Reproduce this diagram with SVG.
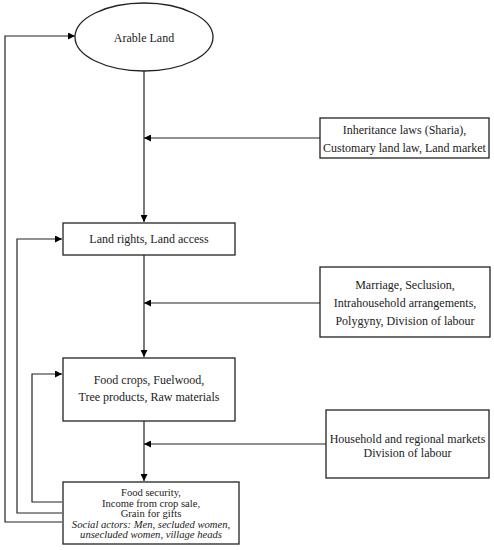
<svg xmlns="http://www.w3.org/2000/svg" width="494" height="550" viewBox="0 0 494 550">
<defs>
<marker id="ah" viewBox="0 0 10 10" refX="10" refY="5" markerWidth="7" markerHeight="7" markerUnits="userSpaceOnUse" orient="auto">
<path d="M0,0 L10,5 L0,10 z" fill="#000"/>
</marker>
<style>
.n{fill:#fff;stroke:#222;stroke-width:1.3}
.t{font-family:"Liberation Serif","DejaVu Serif",serif;font-size:12px;fill:#222;text-anchor:middle}
.s{font-size:10.6px}
.ti{font-style:italic}
.c{fill:none;stroke:#222;stroke-width:1.2;marker-end:url(#ah)}
</style>
</defs>
<rect width="494" height="550" fill="#fff"/>
<g id="connectors">
<path class="c" d="M144,71 V222"/>
<path class="c" d="M320,138 H144"/>
<path class="c" d="M144,255 V357"/>
<path class="c" d="M320,303 H144"/>
<path class="c" d="M144,421 V481"/>
<path class="c" d="M326,444 H144"/>
<path class="c" d="M62,522 H5 V36 H75"/>
<path class="c" d="M62,513 H17 V239 H62"/>
<path class="c" d="M62,502 H32 V374 H62"/>
</g>
<g id="arable">
<ellipse class="n" cx="144" cy="37" rx="69" ry="34"/>
<text class="t" x="144" y="42">Arable Land</text>
</g>
<g id="inheritance">
<rect class="n" x="320" y="118" width="169" height="40"/>
<text class="t" x="404.5" y="134">Inheritance laws (Sharia),</text>
<text class="t" x="404.5" y="152">Customary land law, Land market</text>
</g>
<g id="landrights">
<rect class="n" x="63" y="223" width="172" height="32"/>
<text class="t" x="149" y="243">Land rights, Land access</text>
</g>
<g id="marriage">
<rect class="n" x="320" y="267" width="170" height="70"/>
<text class="t" x="405" y="289">Marriage, Seclusion,</text>
<text class="t" x="405" y="307">Intrahousehold arrangements,</text>
<text class="t" x="405" y="325">Polygyny, Division of labour</text>
</g>
<g id="foodcrops">
<rect class="n" x="63" y="358" width="172" height="63"/>
<text class="t" x="149" y="384">Food crops, Fuelwood,</text>
<text class="t" x="149" y="401">Tree products, Raw materials</text>
</g>
<g id="markets">
<rect class="n" x="326" y="410" width="163" height="68"/>
<text class="t" x="407.5" y="443">Household and regional markets</text>
<text class="t" x="407.5" y="457">Division of labour</text>
</g>
<g id="foodsecurity">
<rect class="n" x="63" y="482" width="176" height="62"/>
<text class="t s" x="151" y="496">Food security,</text>
<text class="t s" x="151" y="506.5">Income from crop sale,</text>
<text class="t s" x="151" y="517">Grain for gifts</text>
<text class="t s ti" x="151" y="527.5">Social actors: Men, secluded women,</text>
<text class="t s ti" x="151" y="538">unsecluded women, village heads</text>
</g>
</svg>
